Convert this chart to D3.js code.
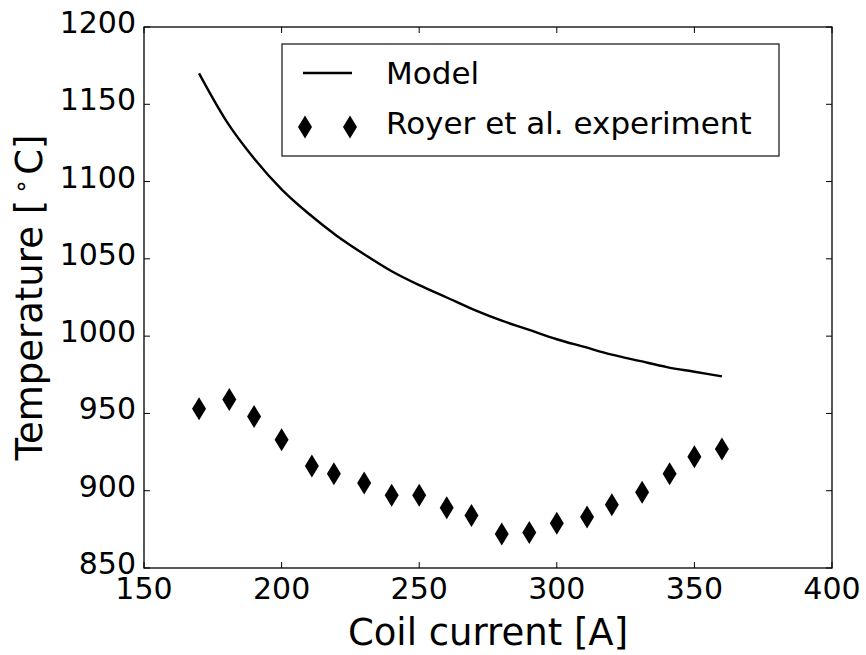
<!DOCTYPE html>
<html>
<head>
<meta charset="utf-8">
<script src="https://cdn.jsdelivr.net/npm/d3@7/dist/d3.min.js"></script>
<style>
  html, body { margin: 0; padding: 0; background: #fff; }
  svg { display: block; font-family: "DejaVu Sans", sans-serif; }
</style>
</head>
<body>
<svg id="chart" width="866" height="655"></svg>
<script>
// Model prediction (coil current in A, temperature in °C)
const modelCurrent = [170, 180, 190, 200, 210, 220, 230, 240, 250, 260, 270, 280, 290, 300, 310, 320, 330, 340, 350, 360];
const modelTemp    = [1170, 1139, 1115, 1095, 1079, 1065, 1053, 1042, 1033, 1025, 1017, 1010, 1004, 998, 993, 988, 984, 980, 977, 974];

// Royer et al. measurements
const expCurrent = [170, 181, 190, 200, 211, 219, 230, 240, 250, 260, 269, 280, 290, 300, 311, 320, 331, 341, 350, 360];
const expTemp    = [953, 959, 948, 933, 916, 911, 905, 897, 897, 889, 884, 872, 873, 879, 883, 891, 899, 911, 922, 927];

const xTicks = [150, 200, 250, 300, 350, 400];
const yTicks = [850, 900, 950, 1000, 1050, 1100, 1150, 1200];

const seriesNames = ["Model", "Royer et al. experiment"];

const svg = d3.select("#chart");
const plotL = 144, plotR = 832, plotT = 27, plotB = 568;

const x = d3.scaleLinear().domain([150, 400]).range([plotL, plotR]);
const y = d3.scaleLinear().domain([850, 1200]).range([plotB, plotT]);

const tickLen = 6;
const tickFont = 30;

// Inward ticks on all four sides
const axesG = svg.append("g");
xTicks.forEach(t => {
  axesG.append("line").attr("x1", x(t)).attr("x2", x(t)).attr("y1", plotB).attr("y2", plotB - tickLen)
    .attr("stroke", "#000").attr("stroke-width", 1);
  axesG.append("line").attr("x1", x(t)).attr("x2", x(t)).attr("y1", plotT).attr("y2", plotT + tickLen)
    .attr("stroke", "#000").attr("stroke-width", 1);
  axesG.append("text").attr("x", x(t)).attr("y", plotB + 31)
    .attr("text-anchor", "middle").attr("font-size", tickFont).attr("fill", "#000").text(t);
});
yTicks.forEach(t => {
  axesG.append("line").attr("x1", plotL).attr("x2", plotL + tickLen).attr("y1", y(t)).attr("y2", y(t))
    .attr("stroke", "#000").attr("stroke-width", 1);
  axesG.append("line").attr("x1", plotR).attr("x2", plotR - tickLen).attr("y1", y(t)).attr("y2", y(t))
    .attr("stroke", "#000").attr("stroke-width", 1);
  axesG.append("text").attr("x", plotL - 8).attr("y", y(t) + 6)
    .attr("text-anchor", "end").attr("font-size", tickFont).attr("fill", "#000").text(t);
});

// Frame
svg.append("rect").attr("x", plotL).attr("y", plotT).attr("width", plotR - plotL).attr("height", plotB - plotT)
  .attr("fill", "none").attr("stroke", "#000").attr("stroke-width", 1.3);

// Model curve
const modelData = modelCurrent.map((c, i) => [c, modelTemp[i]]);
svg.append("path")
  .datum(modelData)
  .attr("d", d3.line().x(d => x(d[0])).y(d => y(d[1])).curve(d3.curveMonotoneX))
  .attr("fill", "none").attr("stroke", "#000").attr("stroke-width", 2.4);

// Thin diamond marker
const diamond = (w, h) => `M0,${-h}L${w},0L0,${h}L${-w},0Z`;

const expData = expCurrent.map((c, i) => [c, expTemp[i]]);
svg.append("g").selectAll("path")
  .data(expData)
  .join("path")
  .attr("transform", d => `translate(${x(d[0])},${y(d[1])})`)
  .attr("d", diamond(7, 11.5))
  .attr("fill", "#000");

// Axis labels
svg.append("text").attr("x", (plotL + plotR) / 2).attr("y", 645)
  .attr("text-anchor", "middle").attr("font-size", 37).attr("fill", "#000")
  .text("Coil current [A]");

const yl = svg.append("text")
  .attr("transform", `translate(42,${(plotT + plotB) / 2}) rotate(-90)`)
  .attr("text-anchor", "middle").attr("font-size", 37).attr("fill", "#000");
yl.append("tspan").text("Temperature [");
yl.append("tspan").attr("font-size", 24).attr("dy", -13).attr("dx", 6).text("∘");
yl.append("tspan").attr("dy", 13).attr("dx", 4).text("C]");

// Legend
const lg = svg.append("g");
lg.append("rect").attr("x", 282).attr("y", 44).attr("width", 497).attr("height", 112)
  .attr("fill", "#fff").attr("stroke", "#222").attr("stroke-width", 1.3);
lg.append("line").attr("x1", 303).attr("x2", 352).attr("y1", 73).attr("y2", 73)
  .attr("stroke", "#000").attr("stroke-width", 2.4);
lg.append("text").attr("x", 386).attr("y", 84).attr("font-size", 31).attr("fill", "#000").text(seriesNames[0]);
[305, 350].forEach(px => {
  lg.append("path").attr("transform", `translate(${px},127)`).attr("d", diamond(7, 11.5)).attr("fill", "#000");
});
lg.append("text").attr("x", 386).attr("y", 134).attr("font-size", 31).attr("fill", "#000").text(seriesNames[1]);
</script>
</body>
</html>
